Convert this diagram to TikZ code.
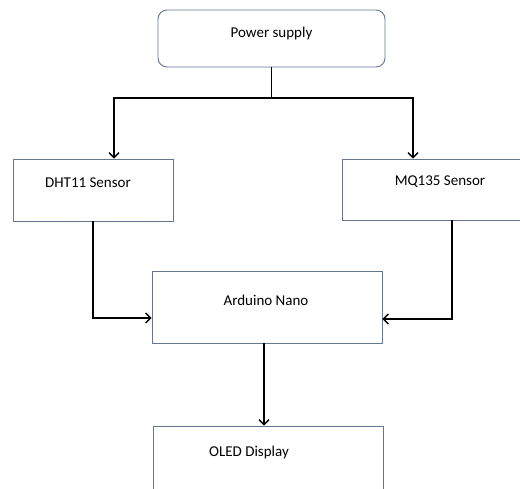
\documentclass[tikz,border=0pt]{standalone}
\usepackage{fontspec}
\setmainfont{Carlito}
\usetikzlibrary{arrows.meta}
\definecolor{boxline}{RGB}{100,118,145}
\tikzset{
  blockbox/.style={draw=boxline, line width=0.9pt, fill=white, inner sep=0pt},
  blocktext/.style={font=\fontsize{15}{17}\selectfont, inner sep=0pt},
  wire/.style={line width=1.6pt, black},
  flow/.style={wire, -{Straight Barb[length=5pt,width=10pt,line width=1.4pt]}}
}
\begin{document}
\begin{tikzpicture}[x=1pt,y=-1pt]
  \useasboundingbox (0,0) rectangle (520,488);
  \clip (0,0) rectangle (520,488);
  % blocks
  \node[blockbox, rounded corners=9pt, minimum width=227pt, minimum height=57pt] (power) at (271.5,38.5) {};
  \node[blockbox, minimum width=160pt, minimum height=62pt] (dht) at (93,190) {};
  \node[blockbox, minimum width=184pt, minimum height=61pt] (mq) at (434,189.5) {};
  \node[blockbox, minimum width=230pt, minimum height=72pt] (nano) at (267,307) {};
  \node[blockbox, minimum width=230pt, minimum height=80pt] (oled) at (268,466) {};
  % labels
  \node[blocktext] (powertext) at (271.5,33) {Power supply};
  \node[blocktext] (dhttext) at (88,183) {DHT11 Sensor};
  \node[blocktext] (mqtext) at (440,182) {MQ135 Sensor};
  \node[blocktext] (nanotext) at (266,300) {Arduino Nano};
  \node[blocktext] (oledtext) at (249,452) {OLED Display};
  % connectors
  \coordinate (split) at (271.5,98);
  \draw[wire] (power.south) -- (split);
  \draw[flow] (split) -| ([xshift=21pt]dht.north);
  \draw[flow] (split) -| ([xshift=-21pt]mq.north);
  \draw[flow] (dht.south) |- ([yshift=-11pt]nano.west);
  \draw[flow] ([xshift=18pt]mq.south) |- ([yshift=-12pt]nano.east);
  \draw[flow] ([xshift=-3pt]nano.south) -- ([xshift=-4pt]oled.north);
\end{tikzpicture}
\end{document}
